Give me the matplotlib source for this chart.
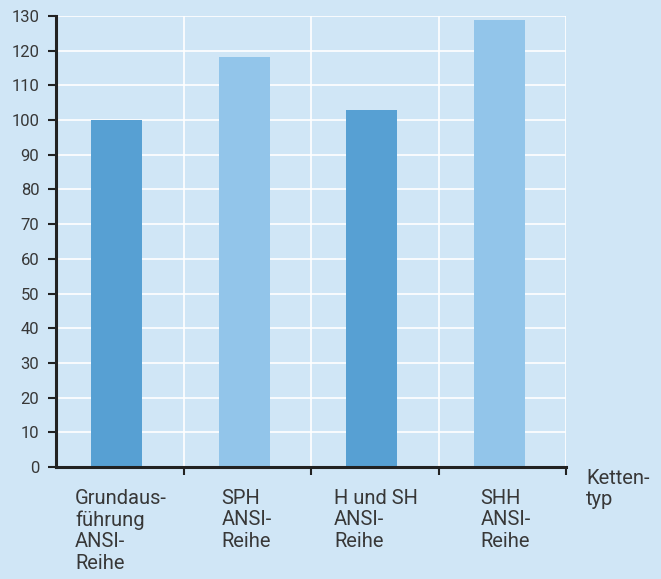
import matplotlib.pyplot as plt
import matplotlib.transforms as mtransforms

# Data
categories = ["Grundaus-\nführung\nANSI-\nReihe", "SPH\nANSI-\nReihe",
              "H und SH\nANSI-\nReihe", "SHH\nANSI-\nReihe"]
values = [100, 118.2, 102.9, 128.8]
label_x = [-0.35, 0.80, 1.68, 2.83]
bar_colors = ["#57a0d3", "#92c5ea", "#57a0d3", "#92c5ea"]
y_ticks = list(range(0, 131, 10))

BG = "#d0e6f6"
TXT = "#383838"
plt.rcParams["font.family"] = ["Roboto", "DejaVu Sans"]

fig = plt.figure(figsize=(6.61, 5.79), dpi=100, facecolor=BG)
ax = fig.add_axes([56 / 661, 1 - 467 / 579, 510 / 661, 451 / 579])
ax.set_facecolor(BG)

x = [i - 0.025 for i in range(len(values))]
ax.bar(x, values, width=0.4, color=bar_colors, zorder=3)

ax.set_xlim(-0.5, 3.5)
ax.set_ylim(0, 130)
ax.set_yticks(y_ticks)
ax.set_xticks([0.5, 1.5, 2.5, 3.5])
ax.set_xticklabels([])
ax.grid(True, color="white", linewidth=1.2, zorder=1)

for s in ["top", "right"]:
    ax.spines[s].set_visible(False)
for s in ["left", "bottom"]:
    ax.spines[s].set_color("#222222")
    ax.spines[s].set_linewidth(2.2)
    ax.spines[s].set_zorder(4)

ax.tick_params(axis="y", length=6, width=1.5, color="#222222", labelsize=12,
               labelcolor=TXT, pad=6)
ax.tick_params(axis="x", length=6, width=1.5, color="#222222")

trans = mtransforms.blended_transform_factory(ax.transData, fig.transFigure)
for lx, lab in zip(label_x, categories):
    ax.text(lx, 1 - 489 / 579, lab, transform=trans, ha="left", va="top",
            fontsize=14.5, color=TXT, linespacing=1.16)

fig.text(586 / 661, 1 - 469 / 579, "Ketten-\ntyp", ha="left", va="top",
         fontsize=14.5, color=TXT, linespacing=1.16)

fig.savefig("out.png", dpi=100, facecolor=BG)
